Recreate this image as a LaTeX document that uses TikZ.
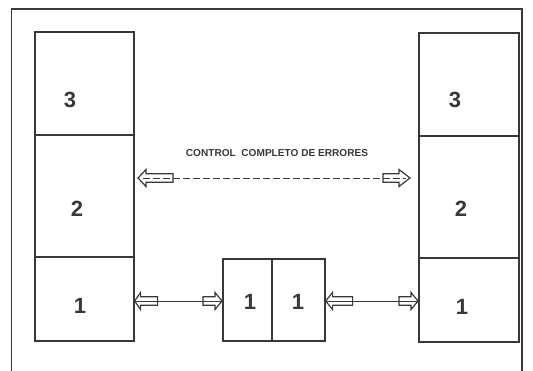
\documentclass[tikz,border=0pt]{standalone}
\usepackage{fontspec}
\setmainfont{Liberation Sans}
\definecolor{ink}{HTML}{383838}
\tikzset{
  pics/harrow/.style n args={3}{code={%
    \draw[ink, line width=1.2pt, line join=miter] (0,0) -- (-#2,-#3) -- (-#2,-4.2) -- (-#1,-4.2) -- (-#1,4.2) -- (-#2,4.2) -- (-#2,#3) -- cycle;}},
  lay/.style={draw=ink, line width=1.6pt, inner sep=0pt, anchor=north west},
  digit/.style={text=ink, font=\bfseries\fontsize{22}{22}\selectfont, inner sep=0pt},
  conn/.style={draw=ink, line width=0.9pt},
}
\begin{document}
\begin{tikzpicture}[x=1pt,y=-1pt]
\useasboundingbox (0,0) rectangle (533,371);
\fill[white] (0,0) rectangle (533,371);
% outer frame
\draw[ink, line width=1.9pt] (11.5,385) -- (11.5,9) -- (522,9) -- (522,385);
% left stack
\node[lay, minimum width=99pt, minimum height=103pt] (L3) at (34,31) {};
\node[lay, minimum width=99pt, minimum height=122pt] (L2) at (34,134) {};
\node[lay, minimum width=99pt, minimum height=84pt] (L1) at (34,256) {};
% right stack
\node[lay, minimum width=100pt, minimum height=103pt] (R3) at (418,32) {};
\node[lay, minimum width=100pt, minimum height=122pt] (R2) at (418,135) {};
\node[lay, minimum width=100pt, minimum height=84pt] (R1) at (418,257) {};
% middle
\node[lay, minimum width=49pt, minimum height=82pt] (MA) at (222,258) {};
\node[lay, minimum width=53pt, minimum height=82pt] (MB) at (271,258) {};
% digits
\node[digit] (tL3) at (70,100) {3};
\node[digit] (tL2) at (77,209) {2};
\node[digit] (tL1) at (80,306) {1};
\node[digit] (tR3) at (455,100) {3};
\node[digit] (tR2) at (461,209) {2};
\node[digit] (tR1) at (462,307) {1};
\node[digit] (tMA) at (250,302) {1};
\node[digit] (tMB) at (298,302) {1};
% label
\node[text=ink, font=\bfseries\fontsize{10.1}{10.1}\selectfont, inner sep=0pt] (lab) at (277,153) {CONTROL\ \ COMPLETO DE ERRORES};
% dashed arrow
\coordinate (dL) at (138,178);
\coordinate (dR) at (410,178);
\draw[ink, line width=0.8pt, dash pattern=on 7pt off 3pt] ([xshift=5pt]dL) -- ([xshift=-4pt]dR);
\pic[rotate=180] at (dL) {harrow={35}{8}{8.5}};
\pic at (dR) {harrow={27}{11}{8.5}};
% bottom connectors
\coordinate (yb) at (0,301);
\coordinate (a1) at (L1.east |- yb);
\coordinate (a2) at (MA.west |- yb);
\coordinate (b1) at (MB.east |- yb);
\coordinate (b2) at (R1.west |- yb);
\draw[conn] (a1) -- (a2);
\draw[conn] (b1) -- (b2);
\pic[rotate=180] at (a1) {harrow={23}{6}{8.5}};
\pic at (a2) {harrow={19}{7}{8.5}};
\pic[rotate=180] at (b1) {harrow={27}{7}{8.5}};
\pic at (b2) {harrow={19}{7}{8.5}};
\end{tikzpicture}
\end{document}
